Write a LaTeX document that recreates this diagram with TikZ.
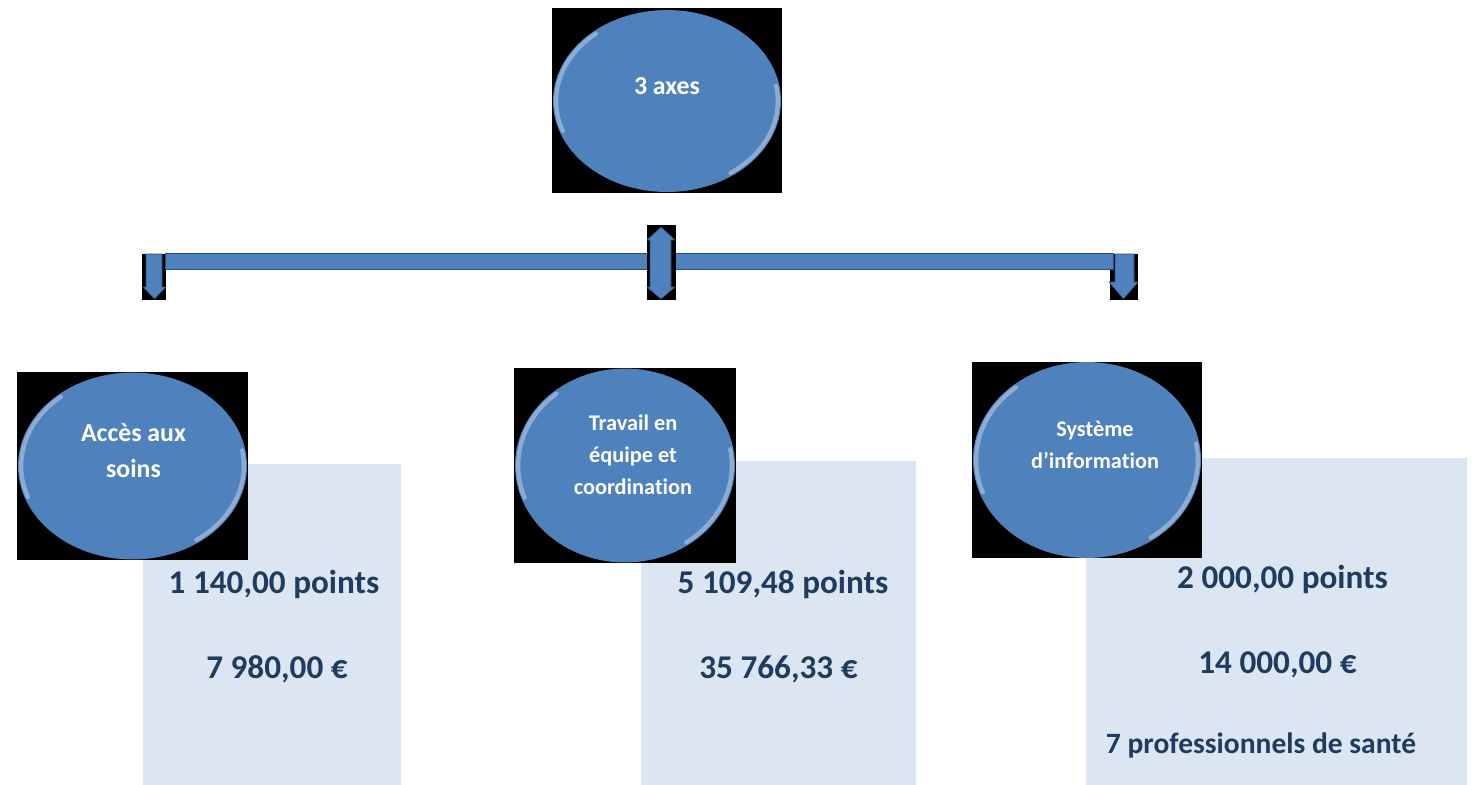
\documentclass[tikz,border=0pt]{standalone}
\usepackage{fontspec}
\setmainfont{Carlito}[Ligatures=NoCommon]
\usetikzlibrary{shapes.geometric,calc}

\definecolor{bleu}{HTML}{4F81BD}
\definecolor{bleufonce}{HTML}{2C4D75}
\definecolor{fond}{HTML}{DCE6F2}
\definecolor{marine}{HTML}{1F3B5E}

\tikzset{
	axe/.style={ellipse, fill=bleu, inner sep=0pt,
		path picture={
			\path let \p1=(path picture bounding box.north east),
				\p2=(path picture bounding box.center),
				\n1={\x1-\x2-1.8pt}, \n2={\y1-\y2-1.8pt} in
				[draw=white, draw opacity=.35, line width=2.4pt, line cap=round]
				(\p2) ++(130:\n1 and \n2) arc[start angle=130, end angle=200, x radius=\n1, y radius=\n2]
				(\p2) ++(-55:\n1 and \n2) arc[start angle=-55, end angle=10, x radius=\n1, y radius=\n2];
		}},
	ombre/.style={fill=black},
	cadre/.style={fill=fond, inner sep=0pt, anchor=north west},
	titre/.style={text=white, font=\bfseries\fontsize{14.7}{20.4}\selectfont, align=center},
	petit/.style={text=white, font=\bfseries\fontsize{12.7}{18.1}\selectfont, align=center},
	valeur/.style={text=marine, font=\bfseries\fontsize{18.9}{22}\selectfont, anchor=base},
	fleche/.style={fill=bleu, draw=bleufonce, line width=0.3pt},
}

\begin{document}
\begin{tikzpicture}[x=0.02cm, y=-0.02cm]
		\fill[white] (0,0) rectangle (1472,785);
		\useasboundingbox (0,0) rectangle (1472,785);
		%
		% boxes with the amounts
		\node[cadre, minimum width=5.16cm, minimum height=6.42cm] (B1) at (143,464) {};
		\node[cadre, minimum width=5.5cm, minimum height=6.48cm] (B2) at (641,461) {};
		\node[cadre, minimum width=7.62cm, minimum height=6.54cm] (B3) at (1086,458) {};
		%
		% black backgrounds
		\fill[ombre] (552,8) rectangle (782,193);
		\fill[ombre] (17,372) rectangle (248,560);
		\fill[ombre] (514,368) rectangle (736,563);
		\fill[ombre] (972,362) rectangle (1202,558);
		\fill[ombre] (142,254) rectangle (166,300);
		\fill[ombre] (1110,254) rectangle (1138,300);
		%
		% ellipses
		\node[axe, minimum width=4.56cm, minimum height=3.64cm] (E0) at (667,101) {};
		\node[axe, minimum width=4.58cm, minimum height=3.74cm] (E1) at (132.5,466) {};
		\node[axe, minimum width=4.4cm, minimum height=3.88cm] (E2) at (625,465.5) {};
		\node[axe, minimum width=4.56cm, minimum height=3.92cm] (E3) at (1087,460) {};
		%
		\node[titre] (T0) at (667,86.5) {3 axes};
		\node[titre] (T1) at (133.5,450.5) {Accès aux\\soins};
		\node[petit] (T2) at (633,455) {Travail en\\équipe et\\coordination};
		\node[petit] (T3) at (1095,444.5) {Système\\d’information};
		%
		% bar and arrows
		\draw[fleche] (165,253) rectangle (1113,269);
		\fill[ombre] (647,225) rectangle (676,300);
		\draw[fleche] (146,254) -- (162,254) -- (162,287) -- (166,287) -- (154.5,299)
			-- (143,287) -- (146,287) -- cycle;
		\draw[fleche] (650,240) -- (647,240) -- (661,227) -- (675,240) -- (671,240)
			-- (671,287) -- (675,287) -- (661,299) -- (647,287) -- (650,287) -- cycle;
		\draw[fleche] (1115,254) -- (1134,254) -- (1134,282) -- (1138,282) -- (1123.5,299)
			-- (1109,282) -- (1115,282) -- cycle;
		%
		% amounts
		\node[valeur] (P1) at (274,593) {1 140,00 points};
		\node[valeur] (M1) at (277,678) {7 980,00 €};
		\node[valeur] (P2) at (783,593) {5 109,48 points};
		\node[valeur] (M2) at (778.5,678) {35 766,33 €};
		\node[valeur] (P3) at (1282.5,588) {2 000,00 points};
		\node[valeur] (M3) at (1277.5,673) {14 000,00 €};
		\node[valeur, font=\bfseries\fontsize{16.8}{20}\selectfont] (N3) at (1261,753) {7 professionnels de santé};
\end{tikzpicture}
\end{document}
